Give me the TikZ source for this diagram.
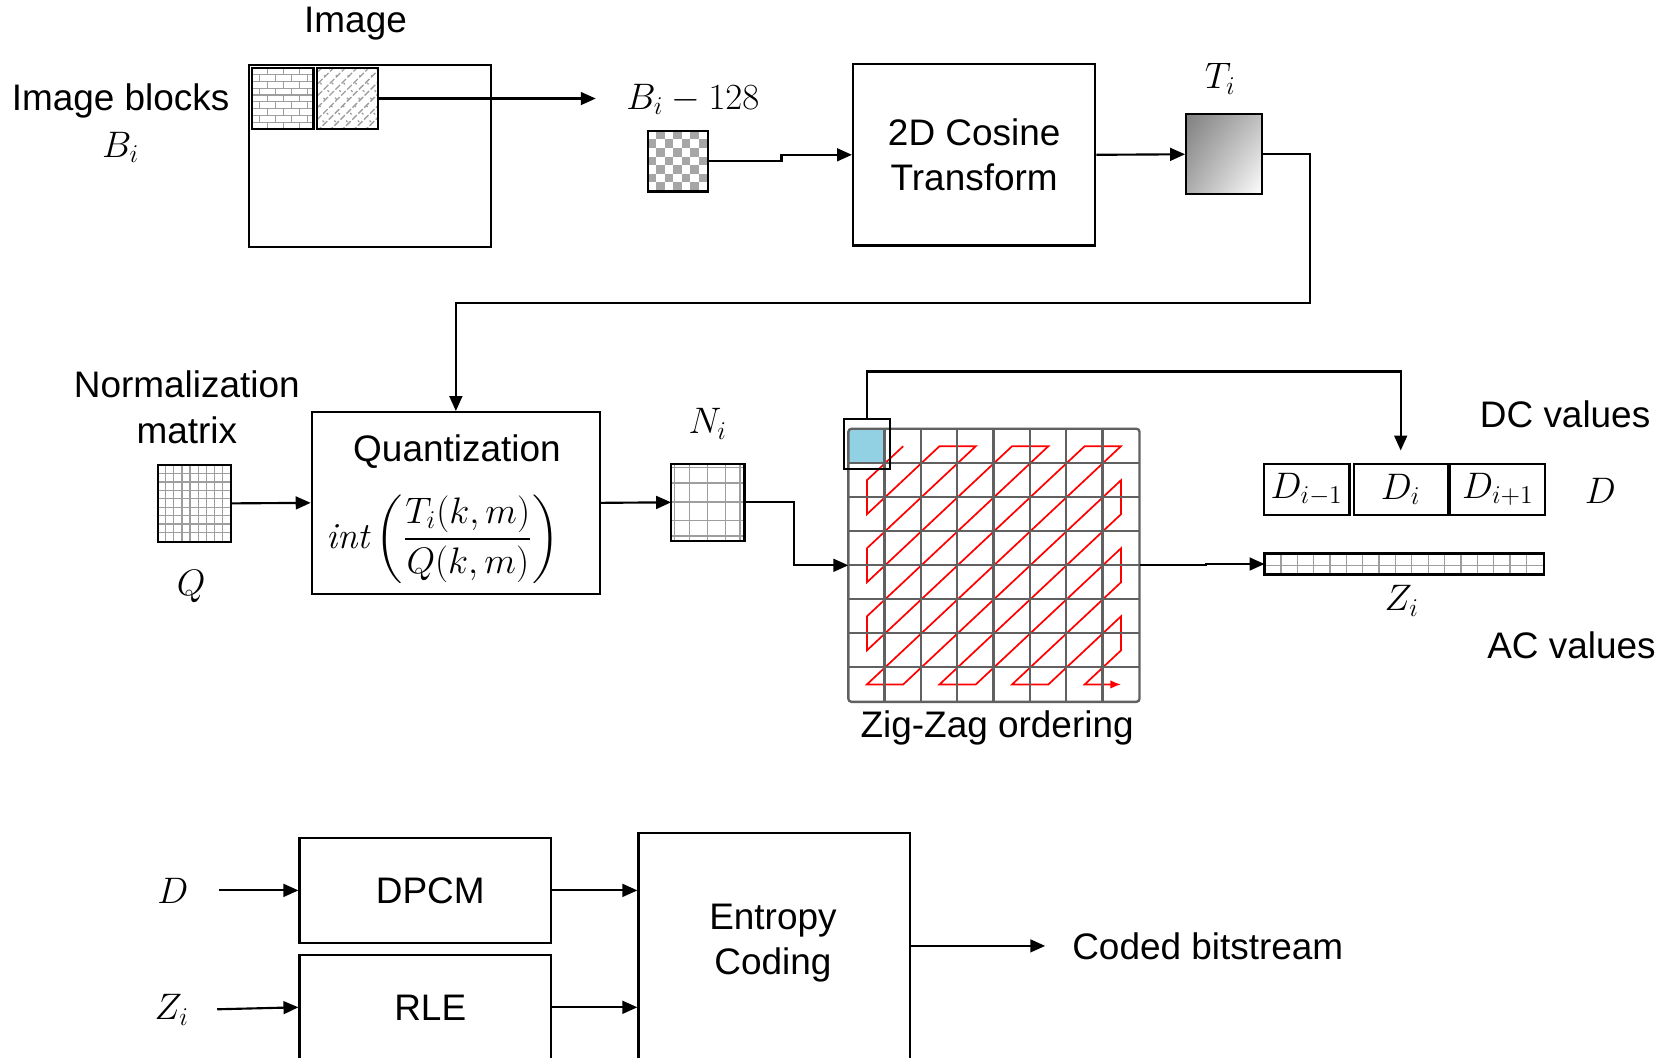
\documentclass[tikz,border=0pt]{standalone}
\usepackage{amsmath}
\usepackage{fontspec}
\newfontfamily\arialf{Liberation Sans}
\usetikzlibrary{arrows.meta,calc,shadings}
% pattern drawing helpers (coordinates in picture units, y downward)
\newcommand{\fillpat}[2]{%
  \begin{scope}
    \clip (#1.north west) rectangle (#1.south east);
    \begin{scope}[shift={(#1.north west)}]#2\end{scope}
  \end{scope}
  \draw[line width=1pt] (#1.north west) rectangle (#1.south east);}
\newcommand{\bricksP}{%
  \foreach \r in {0,...,9}{
    \draw[patline] (0,\r*6.4) -- (60,\r*6.4);
    \pgfmathsetmacro\off{mod(\r,2)*7.5}
    \foreach \k in {0,...,4}{\draw[patline] (\off+\k*15,\r*6.4) -- ++(0,6.4);}
  }}
\newcommand{\diagP}{%
  \foreach \k in {-6,...,6}{
    \draw[patline,dash pattern=on 3pt off 1pt] (\k*11,60) -- ++(60,-60);
    \draw[patline,dash pattern=on 1pt off 4pt] (\k*11,0) -- ++(60,60);}}
\newcommand{\checkP}{%
  \foreach \i in {0,...,6}{\foreach \j in {0,...,6}{
    \pgfmathtruncatemacro\p{mod(\i+\j,2)}
    \ifnum\p=1 \fill[black!35] (\i*8,\j*8) rectangle ++(8,8);\fi}}}
\newcommand{\qgridP}{%
  \foreach \k in {1,...,8}{
    \draw[patline] (\k*7.6,0) -- ++(0,72);
    \draw[patline] (0,\k*7.9) -- ++(70,0);}}
\newcommand{\ngridP}{%
  \foreach \k in {1,...,3}{
    \draw[patline] (\k*17,0) -- ++(0,72);
    \draw[patline] (0,\k*17.75) -- ++(70,0);}
  \draw[patline] (3.5,0) -- ++(0,72);
  \draw[patline] (64.5,0) -- ++(0,72);
  \draw[patline] (0,3.5) -- ++(70,0);
  \draw[patline] (0,67.5) -- ++(70,0);}
\newcommand{\zgridP}{%
  \foreach \k in {1,...,16}{\draw[patline] (\k*15.33,0) -- ++(0,20);}
  \draw[patline] (0,11) -- (262,11);}
\begin{document}
\begin{tikzpicture}[x=0.5pt,y=-0.5pt,
  box/.style={draw, line width=1pt, inner sep=0pt},
  sz/.style 2 args={minimum width={#1*0.5pt}, minimum height={#2*0.5pt}},
  txt/.style={font=\fontsize{17.3}{21}\selectfont\arialf, inner sep=0pt},
  mth/.style={font=\fontsize{17.3}{21}\selectfont, inner sep=0pt},
  arr/.style={line width=1pt, -{Triangle[length=7pt,width=6pt]}},
  patline/.style={draw=black!38, line width=0.6pt},
  gridline/.style={draw=black!62, line width=1.1pt}
]
\clip (0,0) rectangle (1568,991);
\useasboundingbox (0,0) rectangle (1568,991);

% ---------- top row ----------
\node[txt] (limage) at (333,22) {Image};
\node[box,sz={227}{170}] (img) at (346.5,146) {};
\node[sz={57}{57},inner sep=0pt] (blkA) at (264.7,92.3) {};
\node[sz={57}{57},inner sep=0pt] (blkB) at (325.5,92.3) {};
\fillpat{blkA}{\bricksP}
\fillpat{blkB}{\diagP}
\node[txt] (lblocks) at (113,95) {Image blocks};
\node[mth] (lBi) at (113,138) {$B_i$};
\coordinate (tipA) at (558,92.3);
\draw[arr] (blkB.east) -- (tipA);

\node[mth] (lBm) at (649,93) {$B_i-128$};
\node[sz={56}{56},inner sep=0pt] (chk) at (635,151) {};
\fillpat{chk}{\checkP}
\node[box,sz={227}{170},txt,align=center] (dct) at (912.5,145) {2D Cosine\\[0.4pt]Transform};
\draw[arr] (chk.east) -- (732,151) |- (dct.west);

\node[mth] (lTi) at (1143,74) {$T_i$};
\node[box,sz={71}{75},upper left=black!50,upper right=black!25,lower left=black!32,lower right=white] (grad) at (1146.5,144.5) {};
\draw[arr] (dct.east) -- (grad.west);

% ---------- middle row ----------
\node[box,sz={270}{170}] (quant) at (427,471) {};
\node[txt] (lquant) at (428,423) {Quantization};
\node[mth] (lform) at (415,505) {$\displaystyle \mathit{int}\left(\frac{T_i(k,m)}{Q(k,m)}\right)$};
\draw[arr] (grad.east) -| (1227,284) -| (quant.north);

\node[txt,align=center] (lnorm) at (175,381.5) {Normalization\\[0.6pt]matrix};
\node[sz={68}{71},inner sep=0pt] (qm) at (182,471.5) {};
\fillpat{qm}{\qgridP}
\node[mth] (lQ) at (179,549) {$Q$};
\draw[arr] (qm.east) -- (quant.west);

\node[mth] (lNi) at (663,397) {$N_i$};
\node[sz={68}{71},inner sep=0pt] (nm) at (663,470.5) {};
\fillpat{nm}{\ngridP}
\draw[arr] (quant.east) -- (nm.west);

% zig-zag grid
\node[sz={272}{255},inner sep=0pt] (zz) at (931,529.5) {};
\begin{scope}[shift={(812,417.94)}, x=17pt, y=-15.94pt]
\draw[red, line width=0.8pt, line join=miter, -{Latex[length=5pt,width=4pt]}]
  (1,0)--(0,1)--(0,2)--(2,0)--(3,0)--(0,3)--(0,4)--(4,0)--(5,0)--(0,5)--(0,6)--(6,0)--(7,0)--(0,7)
  --(1,7)--(7,1)--(7,2)--(2,7)--(3,7)--(7,3)--(7,4)--(4,7)--(5,7)--(7,5)--(7,6)--(6,7)--(7,7);
\end{scope}
\fill[fill={rgb,255:red,146;green,208;blue,228}] (zz.north west) rectangle ++(34,31.875);
\foreach \k in {1,...,7}{
  \draw[gridline] (zz.north west) ++(\k*34,0) -- ++(0,255);
  \draw[gridline] (zz.north west) ++(0,\k*31.875) -- ++(272,0);}
\draw[gridline,rounded corners=1.5pt] (zz.north west) rectangle (zz.south east);
\node[box,sz={43}{47}] (hl) at (812,416) {};
\draw[arr] (nm.east) -- (744,470.5) |- (zz.west);
\node[txt] (lzz) at (934,682) {Zig-Zag ordering};

% DC / AC values
\node[box,sz={80}{47},mth] (dm1) at (1224,458.5) {$D_{i-1}$};
\node[box,sz={88}{47},mth] (di) at (1312,458.5) {$D_i$};
\node[box,sz={89}{47},mth] (dp1) at (1403,458.5) {$D_{i+1}$};
\node[mth] (lD) at (1499,460) {$D$};
\node[txt] (ldc) at (1466,388) {DC values};
\draw[arr,shorten >=6pt] (hl.north) -- (812,348) -| (di.north);

\node[sz={260.7}{18.8},inner sep=0pt] (zb) at (1315.2,528.3) {};
\fillpat{zb}{\zgridP}
\draw[arr] (zz.east) -- (1130,529.5) |- (zb.west);
\node[mth] (lZi) at (1313,563) {$Z_i$};
\node[txt] (lac) at (1472,604) {AC values};

% ---------- bottom row ----------
\node[box,sz={236}{98},txt] (dpcm) at (398.5,834) {\hspace*{4.5pt}DPCM};
\node[box,sz={236}{98},txt] (rle) at (398.5,943.5) {\hspace*{4.5pt}RLE};
\node[box,sz={254}{220}] (ent) at (725,890.6) {};
\node[txt,align=center] (lent) at (724,883.5) {Entropy\\[0.4pt]Coding};
\node[mth] (lD2) at (162,834) {$D$};
\node[mth] (lZ2) at (161,946) {$Z_i$};
\draw[arr,shorten <=14pt] (lD2.east) -- (dpcm.west);
\draw[arr,shorten <=13pt] (lZ2.east) -- (rle.west);
\draw[arr] (dpcm.east) -- (dpcm.east -| ent.west);
\draw[arr] (rle.east) -- (rle.east -| ent.west);
\node[txt,anchor=west] (lcb) at (1004,886) {Coded bitstream};
\draw[arr,shorten >=12.5pt] ([yshift=2.3pt]ent.east) -- (lcb.west);
\end{tikzpicture}
\end{document}
